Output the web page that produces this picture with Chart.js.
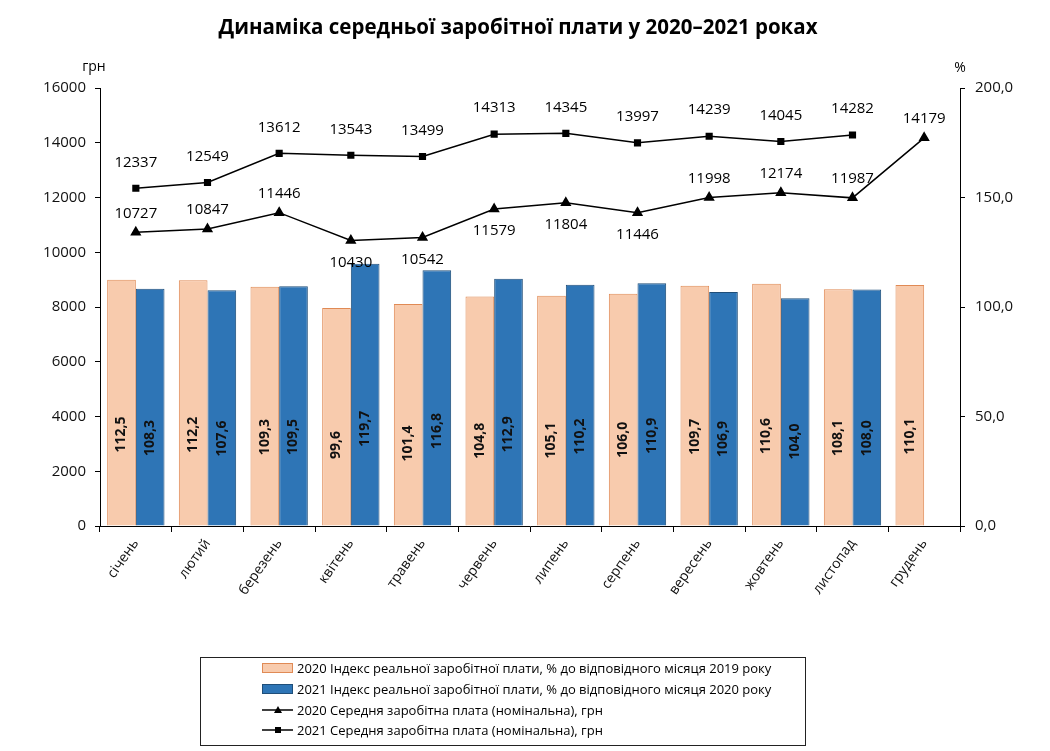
<!DOCTYPE html>
<html>
<head>
<meta charset="utf-8">
<script src="https://cdn.jsdelivr.net/npm/chart.js@4.4.1/dist/chart.umd.min.js"></script>
<style>
  body { margin: 0; background: #fff; }
  #wrap { width: 1050px; height: 751px; position: relative; }
</style>
</head>
<body>
<div id="wrap"><canvas id="wageChart"></canvas></div>
<script>
// Months
const months = ['січень', 'лютий', 'березень', 'квітень', 'травень', 'червень',
                'липень', 'серпень', 'вересень', 'жовтень', 'листопад', 'грудень'];

// Real wage index, % to same month of previous year
const index2020 = [112.5, 112.2, 109.3, 99.6, 101.4, 104.8, 105.1, 106.0, 109.7, 110.6, 108.1, 110.1];
const index2021 = [108.3, 107.6, 109.5, 119.7, 116.8, 112.9, 110.2, 110.9, 106.9, 104.0, 108.0, null];

// Average nominal wage, UAH
const wage2020 = [10727, 10847, 11446, 10430, 10542, 11579, 11804, 11446, 11998, 12174, 11987, 14179];
const wage2021 = [12337, 12549, 13612, 13543, 13499, 14313, 14345, 13997, 14239, 14045, 14282, null];

// Which 2020 wage labels sit under the point
const below2020 = [false, false, false, true, true, true, true, true, false, false, false, false];

const FONT = '"Open Sans", "Noto Sans", sans-serif';

const comma = v => v.toFixed(1).replace('.', ',');

// Custom drawing: title, unit labels, value labels, legend box
const decorations = {
    id: 'decorations',
    afterDatasetsDraw(chart) {
        const ctx = chart.ctx;
        ctx.save();

        // bar labels, rotated
        ctx.font = 'bold 14px ' + FONT;
        ctx.fillStyle = '#111';
        ctx.textAlign = 'center';
        ctx.textBaseline = 'middle';
        [0, 1].forEach(di => {
            const meta = chart.getDatasetMeta(di);
            const vals = chart.data.datasets[di].data;
            meta.data.forEach((bar, i) => {
                if (vals[i] == null) return;
                const y = bar.base - (bar.base - bar.y) * 0.37;
                ctx.save();
                ctx.translate(bar.x, y);
                ctx.rotate(-Math.PI / 2);
                ctx.fillText(comma(vals[i]), 0, 0);
                ctx.restore();
            });
        });

        // line labels
        ctx.font = '15px ' + FONT;
        ctx.fillStyle = '#000';
        chart.getDatasetMeta(2).data.forEach((pt, i) => {
            const dy = below2020[i] ? 22 : -19;
            ctx.fillText(String(wage2020[i]), pt.x, pt.y + dy);
        });
        chart.getDatasetMeta(3).data.forEach((pt, i) => {
            if (wage2021[i] == null) return;
            ctx.fillText(String(wage2021[i]), pt.x, pt.y - 26);
        });
        ctx.restore();
    },
    afterDraw(chart) {
        const ctx = chart.ctx;
        const area = chart.chartArea;
        ctx.save();

        // title
        ctx.font = 'bold 20.5px ' + FONT;
        ctx.fillStyle = '#000';
        ctx.textAlign = 'center';
        ctx.textBaseline = 'middle';
        ctx.fillText('Динаміка середньої заробітної плати у 2020–2021 роках', 518, 28);

        // units
        ctx.font = '14px ' + FONT;
        ctx.fillText('грн', area.left - 6, 67);
        ctx.fillText('%', area.right, 68);

        // legend
        ctx.strokeStyle = '#222';
        ctx.lineWidth = 1;
        ctx.strokeRect(200.5, 657.5, 605, 88);
        ctx.font = '13px ' + FONT;
        ctx.textAlign = 'left';
        const rows = [668, 689, 710, 730];
        chart.data.datasets.forEach((ds, i) => {
            const y = rows[ds.legendRow];
            if (ds.type === 'bar') {
                ctx.fillStyle = ds.backgroundColor;
                ctx.fillRect(262, y - 5, 31, 10);
                ctx.strokeStyle = ds.borderColor;
                ctx.strokeRect(262.5, y - 4.5, 30, 9);
            } else {
                ctx.strokeStyle = '#000';
                ctx.lineWidth = 1.5;
                ctx.beginPath();
                ctx.moveTo(262, y);
                ctx.lineTo(293, y);
                ctx.stroke();
                ctx.fillStyle = '#000';
                if (ds.pointStyle === 'triangle') {
                    ctx.beginPath();
                    ctx.moveTo(278, y - 4);
                    ctx.lineTo(282, y + 3);
                    ctx.lineTo(274, y + 3);
                    ctx.closePath();
                    ctx.fill();
                } else {
                    ctx.fillRect(275, y - 3, 6, 6);
                }
                ctx.lineWidth = 1;
            }
            ctx.fillStyle = '#000';
            ctx.fillText(ds.label, 297, y + 1);
        });
        ctx.restore();
    }
};

const ctx = document.getElementById('wageChart').getContext('2d');

new Chart(ctx, {
    data: {
        labels: months,
        datasets: [
            {
                type: 'bar',
                label: '2020 Індекс реальної заробітної плати, % до відповідного місяця 2019 року',
                data: index2020,
                yAxisID: 'y1',
                backgroundColor: '#F8CBAD',
                borderColor: '#E08A55',
                borderWidth: 1,
                categoryPercentage: 0.8,
                barPercentage: 1.0,
                order: 2,
                legendRow: 0
            },
            {
                type: 'bar',
                label: '2021 Індекс реальної заробітної плати, % до відповідного місяця 2020 року',
                data: index2021,
                yAxisID: 'y1',
                backgroundColor: '#2E75B6',
                borderColor: '#1F4E79',
                borderWidth: 1,
                categoryPercentage: 0.8,
                barPercentage: 1.0,
                order: 2,
                legendRow: 1
            },
            {
                type: 'line',
                label: '2020 Середня заробітна плата (номінальна), грн',
                data: wage2020,
                yAxisID: 'y',
                borderColor: '#000',
                borderWidth: 1.5,
                pointStyle: 'triangle',
                pointRadius: 5,
                pointBackgroundColor: '#000',
                pointBorderColor: '#000',
                tension: 0,
                order: 0,
                legendRow: 2
            },
            {
                type: 'line',
                label: '2021 Середня заробітна плата (номінальна), грн',
                data: wage2021,
                yAxisID: 'y',
                borderColor: '#000',
                borderWidth: 1.5,
                pointStyle: 'rect',
                pointRadius: 4,
                pointBackgroundColor: '#000',
                pointBorderColor: '#000',
                tension: 0,
                order: 0,
                legendRow: 3
            }
        ]
    },
    options: {
        responsive: true,
        maintainAspectRatio: false,
        animation: false,
        layout: { padding: { top: 88, left: 0, right: 0, bottom: 0 } },
        scales: {
            x: {
                offset: true,
                grid: { offset: true, drawOnChartArea: false, drawTicks: true, tickLength: 6, color: '#000' },
                border: { display: true, color: '#000' },
                ticks: {
                    color: '#111',
                    font: { family: FONT, size: 14 },
                    minRotation: 55,
                    maxRotation: 55,
                    padding: 4
                },
                afterFit: s => { s.height = 225; }
            },
            y: {
                position: 'left',
                min: 0,
                max: 16000,
                grid: { drawOnChartArea: false, tickLength: 5, color: '#000' },
                border: { display: true, color: '#000' },
                ticks: {
                    stepSize: 2000,
                    color: '#111',
                    padding: 9,
                    font: { family: FONT, size: 15 },
                    callback: v => String(v)
                },
                afterFit: s => { s.width = 100; }
            },
            y1: {
                position: 'right',
                min: 0,
                max: 200,
                grid: { drawOnChartArea: false, tickLength: 5, color: '#000' },
                border: { display: true, color: '#000' },
                ticks: {
                    stepSize: 50,
                    color: '#111',
                    padding: 10,
                    font: { family: FONT, size: 15 },
                    callback: v => comma(v)
                },
                afterFit: s => { s.width = 90; }
            }
        },
        plugins: {
            legend: { display: false },
            tooltip: { enabled: false }
        }
    },
    plugins: [decorations]
});
</script>
</body>
</html>
